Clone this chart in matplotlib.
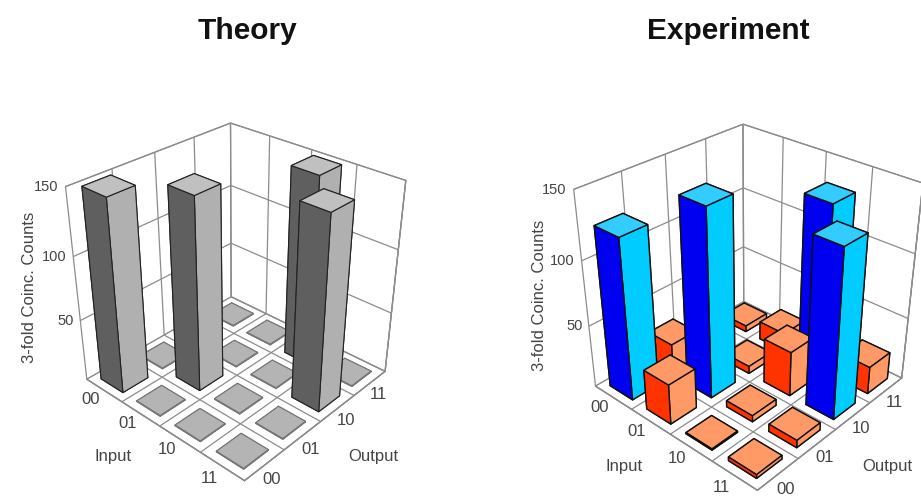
import numpy as np
import matplotlib
matplotlib.use("Agg")
import matplotlib.pyplot as plt

plt.rcParams['font.family'] = ['Liberation Sans', 'DejaVu Sans']

inputs = ['00', '01', '10', '11']
outputs = ['00', '01', '10', '11']
z_ticks = [50, 100, 150]

# rows: input, columns: output
theory = [[150, 0.5, 0.5, 0.5],
          [0.5, 150, 0.5, 0.5],
          [0.5, 0.5, 0.5, 150],
          [0.5, 0.5, 150, 0.5]]
experiment = [[125, 26, 10, 5],
              [32, 145, 6, 15],
              [1, 5, 36, 132],
              [3, 6, 130, 22]]

gray_colors = ('#c0c0c0', '#5f5f5f', '#b0b0b0')
blue_colors = ('#33ccff', '#0000f0', '#00ccff')
orange_colors = ('#ff9966', '#ff3300', '#ff9966')
theory_low = ('#b4b4b4', '#555555', '#b4b4b4')


def panel(fig, rect, data, high, low, edge, low_edge, lw, title, title_xy, ylabel_xy, input_xy, output_xy, elev, azim, focal, zoom, aspect):
    ax = fig.add_axes(rect, projection='3d')
    ax.set_proj_type('persp', focal_length=focal)
    ax.view_init(elev=elev, azim=azim)
    ax.patch.set_alpha(0)
    ax.set_xlim(0, 4, view_margin=0)
    ax.set_ylim(0, 4, view_margin=0)
    ax.set_zlim(0, 150, view_margin=0)
    ax.set_box_aspect((1, 1, aspect), zoom=zoom)
    ax.set_xticks(range(5))
    ax.set_yticks(range(5))
    ax.set_zticks(z_ticks)
    ax.set_xticklabels([])
    ax.set_yticklabels([])
    ax.set_zticklabels([])
    for axis in (ax.xaxis, ax.yaxis, ax.zaxis):
        axis.set_pane_color((1, 1, 1, 1))
        axis.pane.set_edgecolor('#8c8c8c')
        axis.pane.set_linewidth(0.9)
        axis.line.set_color('#8c8c8c')
        axis.line.set_linewidth(0.9)
        axis._axinfo['grid'].update(color='#8c8c8c', linewidth=0.9)
        axis._axinfo['tick'].update(inward_factor=0, outward_factor=0)
    ax.computed_zorder = False
    w = 0.62
    off = (1 - w) / 2
    for i in range(4):
        for j in range(4):
            v = data[i][j]
            is_high = v > 60
            top, left, right = high if is_high else low
            # face order: -z, +z, -y, +y, -x, +x
            ax.bar3d(i + off, j + off, 0, w, w, v,
                     color=[top, top, left, left, left, right],
                     shade=False, edgecolor=edge if is_high else low_edge, linewidth=lw,
                     zorder=10 + i - j)
    for i, s in enumerate(inputs):
        ax.text(i + 0.535, -0.344, 0, s, ha='center', va='center', fontsize=12, color='#444444', zorder=50)
    for j, s in enumerate(outputs):
        ax.text(4.315, j + 0.314, 0, s, ha='center', va='center', fontsize=12, color='#444444', zorder=50)
    for z in z_ticks:
        ax.text(-0.08, -0.08, z, str(z), ha='right', va='center', fontsize=10.5, color='#444444', zorder=50)
    W, H = fig.get_size_inches() * fig.dpi
    fig.text(title_xy[0] / W, 1 - title_xy[1] / H, title, ha='center', va='center', fontsize=21.5, fontweight='bold', color='#111111')
    fig.text(ylabel_xy[0] / W, 1 - ylabel_xy[1] / H, '3-fold Coinc. Counts', rotation=90, ha='center', va='center', fontsize=12, color='#444444')
    fig.text(input_xy[0] / W, 1 - input_xy[1] / H, 'Input', ha='center', va='center', fontsize=12, color='#444444')
    fig.text(output_xy[0] / W, 1 - output_xy[1] / H, 'Output', ha='center', va='center', fontsize=12, color='#444444')
    return ax


fig = plt.figure(figsize=(9.21, 4.99), dpi=100)
panel(fig, [-0.019, -0.009, 0.54, 0.85], theory, gray_colors, theory_low, '#222222', '#777777', 0.8, 'Theory', (247, 31), (30, 287), (113, 456), (373, 456), 31, -47.5, 0.38, 0.889, 0.99)
panel(fig, [0.5375, -0.029, 0.54, 0.87], experiment, blue_colors, orange_colors, '#111111', '#111111', 1.0, 'Experiment', (728, 31), (540, 295), (624, 467), (887, 466), 31, -47.5, 0.38, 0.89, 0.985)
fig.savefig('out.png', dpi=100)
